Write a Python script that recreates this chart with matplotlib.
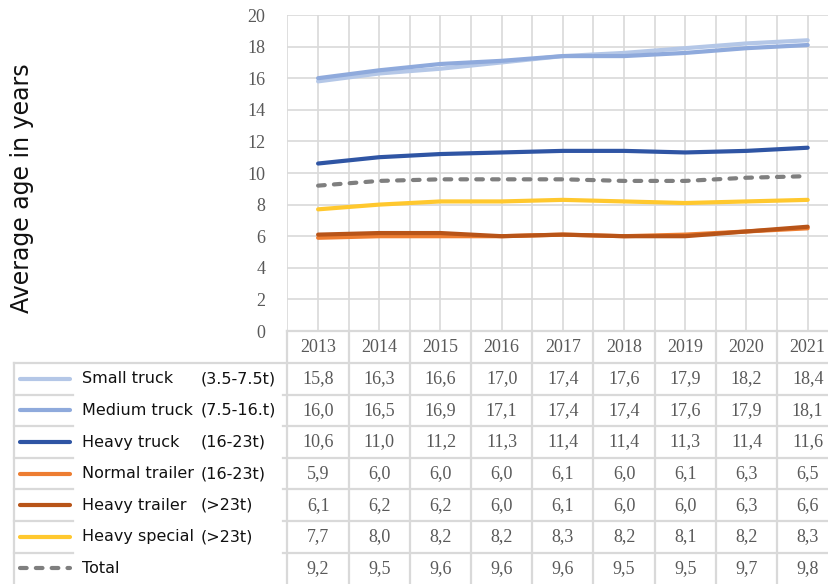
import matplotlib
matplotlib.use("Agg")
import matplotlib.pyplot as plt
import numpy as np

years = ["2013", "2014", "2015", "2016", "2017", "2018", "2019", "2020", "2021"]

series_names = ["Small truck", "Medium truck", "Heavy truck", "Normal trailer",
                "Heavy trailer", "Heavy special", "Total"]
weight_classes = ["(3.5-7.5t)", "(7.5-16.t)", "(16-23t)", "(16-23t)",
                  "(>23t)", "(>23t)", ""]

small_truck = [15.8, 16.3, 16.6, 17.0, 17.4, 17.6, 17.9, 18.2, 18.4]
medium_truck = [16.0, 16.5, 16.9, 17.1, 17.4, 17.4, 17.6, 17.9, 18.1]
heavy_truck = [10.6, 11.0, 11.2, 11.3, 11.4, 11.4, 11.3, 11.4, 11.6]
normal_trailer = [5.9, 6.0, 6.0, 6.0, 6.1, 6.0, 6.1, 6.3, 6.5]
heavy_trailer = [6.1, 6.2, 6.2, 6.0, 6.1, 6.0, 6.0, 6.3, 6.6]
heavy_special = [7.7, 8.0, 8.2, 8.2, 8.3, 8.2, 8.1, 8.2, 8.3]
total = [9.2, 9.5, 9.6, 9.6, 9.6, 9.5, 9.5, 9.7, 9.8]

all_series = [small_truck, medium_truck, heavy_truck, normal_trailer,
              heavy_trailer, heavy_special, total]
colors = ["#b4c7e7", "#8faadc", "#2f55a4", "#ed7d31", "#b85418", "#ffc82e", "#7f7f7f"]
dashed = [False, False, False, False, False, False, True]

GRID = "#d9d9d9"
NUM_COLOR = "#595959"
SERIF = "Liberation Serif"
NUM_SIZE = 13

W, H = 829, 584
fig = plt.figure(figsize=(W / 100, H / 100), dpi=100)

# plot area in pixel terms
left_px, top_px, bottom_px = 287.5, 15.0, 331.0
cat_px = 61.2
right_px = left_px + cat_px * len(years)
ax = fig.add_axes([left_px / W, 1 - bottom_px / H,
                   (right_px - left_px) / W, (bottom_px - top_px) / H])
ax.set_xlim(-0.5, len(years) - 0.5)
ax.set_ylim(0, 20)
for s in ax.spines.values():
    s.set_visible(False)

# gridlines
ax.set_yticks(np.arange(0, 21, 2))
ax.set_yticklabels([str(v) for v in range(0, 21, 2)], fontfamily=SERIF,
                   fontsize=NUM_SIZE, color=NUM_COLOR)
ax.tick_params(axis="y", length=0, pad=16)
ax.set_xticks([])
for v in range(0, 21, 2):
    ax.axhline(v, color=GRID, lw=1.2, zorder=0)
for xv in np.arange(-0.5, len(years), 0.5):
    ax.axvline(xv, color=GRID, lw=1.2, zorder=0)

x = np.arange(len(years))
lw = 3.0
for vals, c, d in zip(all_series, colors, dashed):
    if d:
        ax.plot(x, vals, color=c, lw=lw, dashes=(1.6, 2.2),
                dash_capstyle="round", zorder=3)
    else:
        ax.plot(x, vals, color=c, lw=lw, solid_capstyle="round",
                solid_joinstyle="round", zorder=3)

fig.text(22 / W, 1 - 188 / H, "Average age in years", rotation=90,
         ha="center", va="center", fontsize=17, color="#111111",
         fontfamily="DejaVu Sans")

# ---- data table below the plot ----
def px_to_x(px):
    return -0.5 + (px - left_px) / cat_px

header_h = 2.03
row_h = 2.0
n_rows = len(series_names)
y_bottom = -header_h - row_h * n_rows
x_left = px_to_x(14)
x_right = len(years) - 0.5

kw = dict(color=GRID, lw=1.6, clip_on=False, zorder=1)
# header row lines
ax.plot([-0.5, x_right], [0, 0], **kw)
ax.plot([x_left, x_right], [-header_h, -header_h], **kw)
# vertical column lines
for xv in np.arange(-0.5, len(years), 1.0):
    ax.plot([xv, xv], [0, y_bottom], **kw)
ax.plot([x_left, x_left], [-header_h, y_bottom], **kw)
# row separators (legend text boxes interrupt them)
gap_a, gap_b = px_to_x(73), px_to_x(283)
for i in range(1, n_rows):
    yy = -header_h - row_h * i
    ax.plot([x_left, gap_a], [yy, yy], **kw)
    ax.plot([gap_b, x_right], [yy, yy], **kw)

for j, yr in enumerate(years):
    ax.text(j, -header_h / 2, yr, ha="center", va="center", fontsize=NUM_SIZE,
            fontfamily=SERIF, color=NUM_COLOR, clip_on=False)

sample_a, sample_b = px_to_x(20), px_to_x(70)
name_x = px_to_x(82)
class_x = px_to_x(201)
for i in range(n_rows):
    yc = -header_h - row_h * (i + 0.5)
    if dashed[i]:
        ax.plot([sample_a, sample_b], [yc, yc], color=colors[i], lw=lw,
                dashes=(1.6, 2.2), dash_capstyle="round", clip_on=False)
    else:
        ax.plot([sample_a, sample_b], [yc, yc], color=colors[i], lw=lw,
                solid_capstyle="round", clip_on=False)
    ax.text(name_x, yc, series_names[i], ha="left", va="center",
            fontsize=11.5, color="#111111", fontfamily="DejaVu Sans",
            clip_on=False)
    if weight_classes[i]:
        ax.text(class_x, yc, weight_classes[i], ha="left", va="center",
                fontsize=11.5, color="#111111", fontfamily="DejaVu Sans",
                clip_on=False)
    for j, v in enumerate(all_series[i]):
        ax.text(j, yc, f"{v:.1f}".replace(".", ","), ha="center", va="center",
                fontsize=NUM_SIZE, fontfamily=SERIF, color=NUM_COLOR,
                clip_on=False)

fig.savefig("out.png", dpi=100, facecolor="white")
